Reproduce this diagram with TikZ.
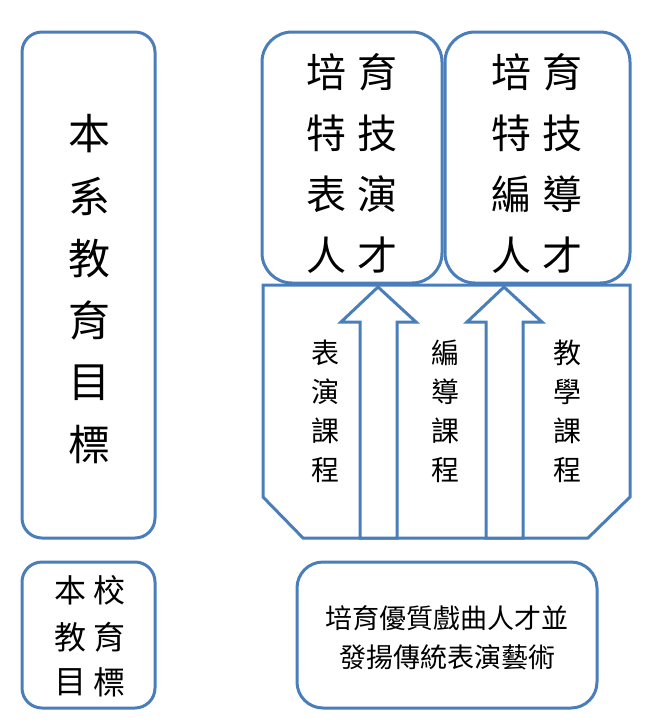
\documentclass[tikz,border=0pt]{standalone}
\usepackage{fontspec}
\newfontfamily\cjk{Noto Sans CJK TC}
\definecolor{boxblue}{HTML}{4A7EBB}
\begin{document}
\begin{tikzpicture}[x=1pt,y=-1pt,
  frame/.style={draw=boxblue,line width=3pt,fill=white},
  rbox/.style={frame,rounded corners=#1},
  ch/.style={inner sep=0pt,text=black,font=\cjk\fontsize{#1}{#1}\selectfont}]
\useasboundingbox (0,0) rectangle (659,724);

% left tall box
\draw[rbox=20pt] (22,32) rectangle (155,538);
\foreach \c [count=\i] in {本,系,教,育,目,標}
  \node[ch=42] (L\i) at (89,{134+62.2*(\i-1)}) {\c};

% small box
\draw[rbox=20pt] (22,562) rectangle (155,708);
\node[ch=32] (S1a) at (70,590) {本};
\node[ch=32] (S1b) at (109,590) {校};
\node[ch=32] (S2a) at (70,637) {教};
\node[ch=32] (S2b) at (109,637) {育};
\node[ch=32] (S3a) at (70,682) {目};
\node[ch=32] (S3b) at (109,682) {標};

% pentagon base
\draw[frame,line join=miter] (263,285) -- (630,285) -- (630,497) -- (588,538) -- (303,538) -- (263,497) -- cycle;

% block arrows
\draw[frame,line join=miter] (378,287) -- (416,322) -- (397,322) -- (397,538) -- (360,538) -- (360,322) -- (341,322) -- cycle;
\draw[frame,line join=miter] (504,287) -- (542,322) -- (523,322) -- (523,538) -- (486,538) -- (486,322) -- (467,322) -- cycle;

% top boxes
\draw[rbox=30pt] (262,32) rectangle (442,283);
\draw[rbox=30pt] (445,32) rectangle (630,283);
\foreach \a/\b [count=\i] in {培/育,特/技,表/演,人/才}{
  \node[ch=40] (A\i a) at (326,{72+61*(\i-1)}) {\a};
  \node[ch=40] (A\i b) at (377,{72+61*(\i-1)}) {\b};
}
\foreach \a/\b [count=\i] in {培/育,特/技,編/導,人/才}{
  \node[ch=40] (B\i a) at (511,{72+61*(\i-1)}) {\a};
  \node[ch=40] (B\i b) at (562,{72+61*(\i-1)}) {\b};
}

% course labels
\foreach \c [count=\i] in {表,演,課,程}
  \node[ch=28] (C1\i) at (325,{353+39*(\i-1)}) {\c};
\foreach \c [count=\i] in {編,導,課,程}
  \node[ch=28] (C2\i) at (445,{353+39*(\i-1)}) {\c};
\foreach \c [count=\i] in {教,學,課,程}
  \node[ch=28] (C3\i) at (567,{353+39*(\i-1)}) {\c};

% bottom box
\draw[rbox=26pt] (297,562) rectangle (597,708);
\node[ch=27] (G1) at (447,618) {培育優質戲曲人才並};
\node[ch=27] (G2) at (447,657) {發揚傳統表演藝術};
\end{tikzpicture}
\end{document}
